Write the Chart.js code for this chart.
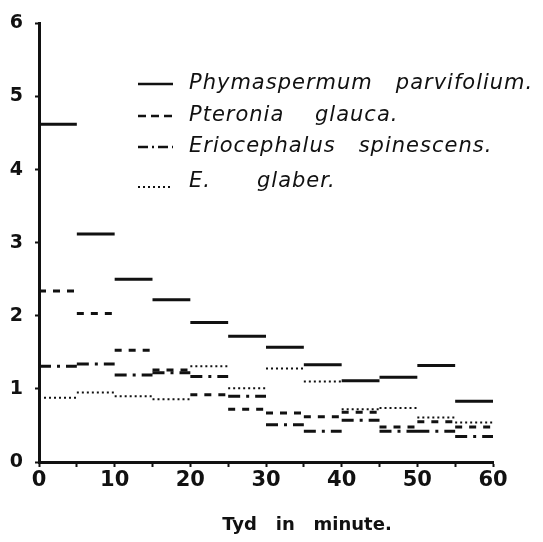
<!DOCTYPE html>
<html>
<head>
<meta charset="utf-8">
<title>Tyd in minute</title>
<script src="https://cdn.jsdelivr.net/npm/chart.js@4.4.1/dist/chart.umd.min.js"></script>
<style>
  html, body { margin: 0; padding: 0; background: #fff; }
  #wrap { width: 543px; height: 542px; }
</style>
</head>
<body>
<div id="wrap"><canvas id="chart"></canvas></div>
<script>
// Intervalle van 5 minute, 0 tot 60
const intervalStart = [0, 5, 10, 15, 20, 25, 30, 35, 40, 45, 50, 55];
const intervalLength = 5;

const phymaspermum = [4.62, 3.12, 2.50, 2.22, 1.91, 1.72, 1.57, 1.33, 1.11, 1.16, 1.32, 0.83];
const pteronia     = [2.34, 2.03, 1.53, 1.26, 0.92, 0.72, 0.67, 0.62, 0.68, 0.48, 0.55, 0.48];
const eriocephalus = [1.31, 1.34, 1.19, 1.22, 1.17, 0.90, 0.51, 0.42, 0.57, 0.42, 0.42, 0.35];
const glaber       = [0.88, 0.95, 0.90, 0.86, 1.31, 1.01, 1.28, 1.10, 0.72, 0.74, 0.61, 0.54];

const seriesLabels = [
    'Phymaspermum   parvifolium.',
    'Pteronia    glauca.',
    'Eriocephalus   spinescens.',
    'E.      glaber.'
];

const xTicks = [0, 10, 20, 30, 40, 50, 60];
const yTicks = [0, 1, 2, 3, 4, 5, 6];
const xTitle = 'Tyd   in   minute.';

// elke waarde word 'n horisontale stuk oor sy interval, met 'n breuk tussen stukke
function steps(values) {
    const pts = [];
    values.forEach((v, i) => {
        const x0 = intervalStart[i];
        pts.push({ x: x0, y: v });
        pts.push({ x: x0 + intervalLength, y: v });
        pts.push({ x: x0 + intervalLength, y: null });
    });
    return pts;
}

const ink = '#111';

// legende binne die grafiek, regs bo, plus die as-titel onder
const legendRows = [84, 116, 147, 182];
const insideLegend = {
    id: 'insideLegend',
    afterDatasetsDraw(chart) {
        const ctx = chart.ctx;
        ctx.save();
        chart.data.datasets.forEach((ds, i) => {
            const y = legendRows[i];
            const lineY = i === 3 ? y + 5 : y;
            ctx.beginPath();
            ctx.strokeStyle = ink;
            ctx.lineWidth = Math.min(ds.borderWidth, 2.5);
            ctx.setLineDash(ds.legendDash || ds.borderDash || []);
            ctx.moveTo(138, lineY);
            ctx.lineTo(173, lineY);
            ctx.stroke();
            ctx.setLineDash([]);
            ctx.fillStyle = ink;
            ctx.font = 'italic 21px "DejaVu Sans"';
            ctx.letterSpacing = '1px';
            ctx.textBaseline = 'middle';
            ctx.textAlign = 'left';
            ctx.fillText(ds.label, 189, y);
        });

        ctx.letterSpacing = '0px';
        ctx.font = 'bold 18px "DejaVu Sans"';
        ctx.textAlign = 'center';
        ctx.textBaseline = 'middle';
        ctx.fillText(xTitle, 307, 525);
        ctx.restore();
    }
};

const ctx = document.getElementById('chart');
new Chart(ctx, {
    type: 'line',
    data: {
        datasets: [
            { label: seriesLabels[0], data: steps(phymaspermum), borderColor: ink, borderWidth: 3, borderDash: [] },
            { label: seriesLabels[1], data: steps(pteronia), borderColor: ink, borderWidth: 3, borderDash: [7, 7], legendDash: [8, 5] },
            { label: seriesLabels[2], data: steps(eriocephalus), borderColor: ink, borderWidth: 3, borderDash: [12, 6, 3, 6], legendDash: [10, 4, 2, 4] },
            { label: seriesLabels[3], data: steps(glaber), borderColor: ink, borderWidth: 2, borderDash: [2, 3] }
        ]
    },
    options: {
        responsive: true,
        maintainAspectRatio: false,
        animation: false,
        spanGaps: false,
        elements: { point: { radius: 0 }, line: { tension: 0, borderCapStyle: 'butt' } },
        layout: { padding: { top: 16, right: 50, left: 0, bottom: 0 } },
        plugins: {
            legend: { display: false },
            tooltip: { enabled: false }
        },
        scales: {
            x: {
                type: 'linear',
                min: 0,
                max: 60,
                afterBuildTicks: (scale) => {
                    scale.ticks = [];
                    for (let v = 0; v <= 60; v += 5) scale.ticks.push({ value: v });
                },
                afterFit: (scale) => { scale.height = 80; },
                border: { color: ink, width: 3 },
                grid: { drawOnChartArea: false, drawTicks: true, tickLength: 5, tickWidth: 2, color: ink },
                ticks: {
                    color: ink,
                    font: { family: 'DejaVu Sans', size: 21, weight: 'bold' },
                    padding: 1,
                    maxRotation: 0,
                    autoSkip: false,
                    callback: (v) => xTicks.includes(v) ? String(v) : ''
                }
            },
            y: {
                min: 0,
                max: 6,
                afterBuildTicks: (scale) => {
                    scale.ticks = yTicks.map(v => ({ value: v }));
                },
                afterFit: (scale) => { scale.width = 39; },
                border: { color: ink, width: 3 },
                grid: { drawOnChartArea: false, drawTicks: true, tickLength: 4, tickWidth: 2, color: ink },
                ticks: {
                    color: ink,
                    font: { family: 'DejaVu Sans', size: 19, weight: 'bold' },
                    padding: 12
                }
            }
        }
    },
    plugins: [insideLegend]
});
</script>
</body>
</html>
